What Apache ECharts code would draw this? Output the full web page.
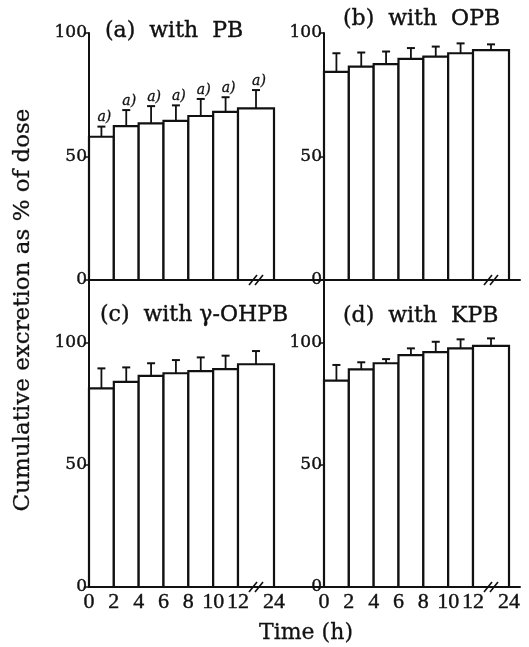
<!DOCTYPE html>
<html>
<head>
<meta charset="utf-8">
<script src="https://cdn.jsdelivr.net/npm/echarts@6/dist/echarts.min.js"></script>
<style>
html, body { margin: 0; padding: 0; background: #fff; }
#chart { width: 529px; height: 647px; }
</style>
</head>
<body>
<div id="chart"></div>
<script>
// sampling times (h); bars span from one time to the next
var times = [0, 2, 4, 6, 8, 10, 12, 24];
var timeLabels = ['0', '2', '4', '6', '8', '10', '12', '24'];
var yTicks = [0, 50, 100];

var pbMean = [58.0, 62.3, 63.4, 64.4, 66.4, 68.1, 69.5];
var pbErr = [4.1, 6.5, 7.0, 6.3, 6.9, 5.9, 7.4];
var opbMean = [84.3, 86.4, 87.4, 89.5, 90.4, 91.8, 93.1];
var opbErr = [7.5, 5.7, 5.1, 4.4, 4.1, 4.0, 2.3];
var ohpbMean = [81.4, 84.1, 86.5, 87.6, 88.5, 89.3, 91.3];
var ohpbErr = [8.2, 5.9, 5.2, 5.4, 5.6, 5.5, 5.4];
var kpbMean = [84.6, 89.2, 91.7, 95.0, 96.3, 97.8, 98.8];
var kpbErr = [6.4, 2.9, 1.7, 2.8, 4.2, 3.7, 3.1];

// broken time axis: everything after 12 h is squeezed
var BREAK_AT = 12, BREAK_CUT = 9.1;
function axisPos(t) { return t > BREAK_AT ? t - BREAK_CUT : t; }
var tickPos = times.map(axisPos);
var breakPos = (axisPos(BREAK_AT) + axisPos(times[times.length - 1])) / 2;

var ink = '#111';

var panels = [
    { mean: pbMean, err: pbErr, flag: 'a)', title: '(a)  with  PB', tx: 105, ty: 31 },
    { mean: opbMean, err: opbErr, flag: null, title: '(b)  with  OPB', tx: 343, ty: 19 },
    { mean: ohpbMean, err: ohpbErr, flag: null, title: '(c)  with γ-OHPB', tx: 100, ty: 315 },
    { mean: kpbMean, err: kpbErr, flag: null, title: '(d)  with  KPB', tx: 343, ty: 316 }
];

var grids = [
    { left: 89, top: 33, width: 235, height: 247 },
    { left: 324, top: 33, width: 196, height: 247 },
    { left: 89, top: 280, width: 235, height: 307 },
    { left: 324, top: 280, width: 196, height: 307 }
];
var pxPerHour = 149 / 12;

function barRenderer(flag) {
    return function (params, api) {
        var x0 = api.value(0), x1 = api.value(1), v = api.value(2), e = api.value(3);
        var p0 = api.coord([x0, 0]);
        var p1 = api.coord([x1, v]);
        var mid = (p0[0] + p1[0]) / 2;
        var top = api.coord([x0, v + e])[1];
        var kids = [
            { type: 'rect', shape: { x: p0[0], y: p1[1], width: p1[0] - p0[0], height: p0[1] - p1[1] },
              style: { fill: '#fff', stroke: ink, lineWidth: 2.2 } },
            { type: 'line', shape: { x1: mid, y1: p1[1], x2: mid, y2: top },
              style: { stroke: ink, lineWidth: 1.8 } },
            { type: 'line', shape: { x1: mid - 4, y1: top, x2: mid + 4, y2: top },
              style: { stroke: ink, lineWidth: 2 } }
        ];
        if (flag) {
            kids.push({ type: 'text', x: mid + 3, y: top - 2,
                style: { text: flag, fill: ink, font: 'italic 14px DejaVu Serif', align: 'center', verticalAlign: 'bottom',
                    stroke: ink, lineWidth: 0.3 } });
        }
        return { type: 'group', children: kids };
    };
}

function renderBreak(params, api) {
    var p = api.coord([api.value(0), 0]);
    var kids = [];
    [-3, 3].forEach(function (d) {
        kids.push({ type: 'line', shape: { x1: p[0] + d - 4, y1: p[1] + 5, x2: p[0] + d + 4, y2: p[1] - 5 },
            style: { stroke: ink, lineWidth: 1.6 } });
    });
    return { type: 'group', children: kids };
}

var xAxes = [], yAxes = [], series = [], texts = [];
panels.forEach(function (pn, i) {
    var g = grids[i];
    var bottomRow = i >= 2;
    xAxes.push({
        type: 'value', gridIndex: i, min: 0, max: g.width / pxPerHour,
        axisLine: { lineStyle: { color: ink, width: 2 } },
        axisTick: { show: false },
        splitLine: { show: false },
        axisLabel: {
            show: bottomRow, customValues: tickPos, margin: 4,
            color: ink, fontFamily: 'Liberation Serif', fontSize: 22,
            textBorderColor: ink, textBorderWidth: 0.4,
            formatter: function (val) {
                for (var k = 0; k < tickPos.length; k++) {
                    if (Math.abs(tickPos[k] - val) < 1e-6) return timeLabels[k];
                }
                return '';
            }
        }
    });
    yAxes.push({
        type: 'value', gridIndex: i, min: 0,
        max: bottomRow ? 100 * g.height / 244 : 100,
        axisLine: { show: true, lineStyle: { color: ink, width: 2 } },
        axisTick: { show: true, customValues: yTicks, length: 5, lineStyle: { color: ink, width: 1.5 } },
        splitLine: { show: false },
        axisLabel: { customValues: yTicks, margin: 2, color: ink, fontFamily: 'DejaVu Serif', fontSize: 17,
            textBorderColor: ink, textBorderWidth: 0.4 }
    });
    var data = pn.mean.map(function (m, k) {
        return [axisPos(times[k]), axisPos(times[k + 1]), m, pn.err[k]];
    });
    series.push({
        type: 'custom', xAxisIndex: i, yAxisIndex: i, renderItem: barRenderer(pn.flag),
        encode: { x: [0, 1], y: [2, 3] }, data: data, silent: true, clip: false
    });
    series.push({
        type: 'custom', xAxisIndex: i, yAxisIndex: i, renderItem: renderBreak,
        encode: { x: 0, y: 1 }, data: [[breakPos, 0]], silent: true, clip: false, z: 5
    });
    texts.push({ type: 'text', x: pn.tx, y: pn.ty,
        style: { text: pn.title, fill: ink, font: '22px DejaVu Serif', verticalAlign: 'middle',
            stroke: ink, lineWidth: 0.4 } });
});

texts.push({ type: 'text', x: 23, y: 310, rotation: Math.PI / 2,
    style: { text: 'Cumulative excretion as % of dose', fill: ink, font: '23px DejaVu Serif',
        align: 'center', verticalAlign: 'middle', stroke: ink, lineWidth: 0.3 } });
texts.push({ type: 'text', x: 306, y: 633,
    style: { text: 'Time (h)', fill: ink, font: '22px DejaVu Serif', align: 'center', verticalAlign: 'middle',
        stroke: ink, lineWidth: 0.3 } });

var chart = echarts.init(document.getElementById('chart'));
chart.setOption({
    backgroundColor: '#fff',
    animation: false,
    grid: grids,
    xAxis: xAxes,
    yAxis: yAxes,
    series: series,
    graphic: texts
});
</script>
</body>
</html>
